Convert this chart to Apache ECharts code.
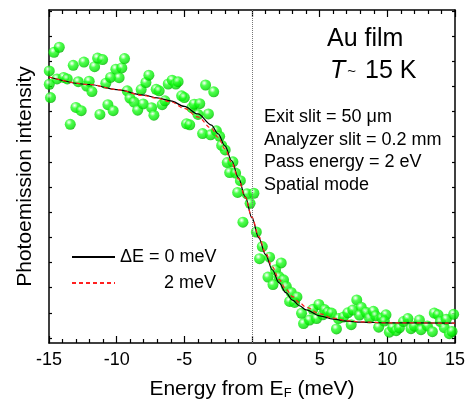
<!DOCTYPE html>
<html>
<head>
<meta charset="utf-8">
<script src="https://cdn.jsdelivr.net/npm/echarts@6/dist/echarts.min.js"></script>
<style>
  html, body { margin: 0; padding: 0; background: #fff; }
  #chart { width: 468px; height: 407px; }
</style>
</head>
<body>
<div id="chart"></div>
<script>
// measured points (energy in meV, intensity in arb. units)
const pointE = [-14.98,-14.98,-14.89,-14.63,-14.41,-14.24,-13.92,-13.65,-13.43,-13.21,
  -13.01,-12.84,-12.62,-12.42,-12.22,-12.03,-11.83,-11.63,-11.41,-11.24,
  -11.04,-10.80,-10.65,-10.45,-10.26,-10.06,-9.82,-9.62,-9.42,-9.22,
  -9.02,-8.72,-8.45,-8.19,-8.04,-7.84,-7.62,-7.42,-7.25,-7.08,
  -6.86,-6.64,-6.43,-6.19,-5.90,-5.63,-5.46,-5.20,-5.00,-4.84,
  -4.60,-4.44,-4.27,-3.99,-3.86,-3.65,-3.43,-3.22,-3.06,-2.83,
  -2.63,-2.39,-2.24,-1.98,-1.83,-1.65,-1.41,-1.21,-1.06,-0.86,
  -0.67,-0.37,-0.14,0.14,0.32,0.56,0.76,1.18,1.30,1.55,
  1.74,1.99,2.16,2.33,2.53,2.78,2.90,3.15,3.32,3.66,
  3.81,4.25,4.50,4.77,4.94,5.23,5.36,5.60,5.88,6.24,
  6.39,6.76,7.08,7.33,7.45,7.74,8.07,7.94,8.43,8.68,
  8.97,9.14,9.36,9.60,9.90,9.78,10.15,10.40,10.65,10.89,
  11.19,11.52,11.75,12.00,12.37,12.49,12.96,13.33,13.47,13.75,
  13.92,14.21,14.36,14.58,14.78,14.90];
const pointI = [10.61,10.08,9.55,11.35,10.29,11.55,10.35,10.29,8.49,10.83,
  9.16,10.18,9.03,10.96,10.01,10.20,9.79,10.78,11.12,8.88,
  11.06,10.12,9.27,10.35,9.03,10.68,10.34,10.73,11.10,9.82,
  9.53,9.37,9.05,9.87,9.30,10.15,10.44,9.15,8.85,9.88,
  9.82,9.27,9.42,10.09,10.24,10.09,10.18,9.62,9.55,8.51,
  8.47,9.15,9.29,8.88,9.31,8.12,10.05,8.90,8.07,9.78,
  8.23,8.01,7.65,7.47,6.97,6.57,7.00,6.55,5.78,6.25,
  4.60,5.73,5.35,5.75,4.21,3.15,3.63,2.42,3.21,2.12,
  2.71,2.44,2.98,2.31,2.05,1.45,1.81,1.41,1.63,0.98,
  0.57,0.71,1.14,0.77,1.33,0.92,1.13,1.02,0.99,0.36,
  0.77,0.83,1.00,0.53,1.11,1.51,1.22,0.91,1.02,0.79,
  1.06,0.88,0.43,0.79,0.92,0.67,0.23,0.41,0.29,0.40,
  0.65,0.77,0.37,0.47,0.71,0.33,0.48,0.25,0.99,0.92,
  0.65,0.41,0.74,0.17,0.26,0.94];

// fitted curves
const fitE = [-15,-12,-10,-8,-7,-6,-5,-4,-3,-2.5,-2,-1.5,-1,-0.5,0,0.5,1,1.5,2,2.5,3,3.5,4,5,6,7,8,10,15];
const fit0 = [10.37,10.07,9.87,9.65,9.54,9.42,9.20,8.90,8.46,8.11,7.63,7.04,6.36,5.61,4.77,3.98,3.31,2.71,2.19,1.80,1.50,1.28,1.12,0.88,0.75,0.67,0.63,0.60,0.59];
const fit2 = [10.37,10.07,9.87,9.63,9.52,9.38,9.12,8.78,8.33,7.97,7.51,6.96,6.32,5.59,4.79,4.04,3.38,2.83,2.33,1.94,1.64,1.40,1.22,0.96,0.79,0.69,0.64,0.60,0.59];
const fitNames = ['ΔE = 0 meV', '2 meV'];

const yTicks = [0,1,2,3,4,5,6,7,8,9,10,11,12,13];
const infoLines = ['Exit slit = 50 μm', 'Analyzer slit = 0.2 mm', 'Pass energy = 2 eV', 'Spatial mode'];

const FONT = '"Liberation Sans", Arial, sans-serif';
const chart = echarts.init(document.getElementById('chart'));

const zip = (xs, ys) => xs.map((x, i) => [x, ys[i]]);

const ballColor = {
  type: 'radial', x: 0.38, y: 0.32, r: 0.7,
  colorStops: [
    { offset: 0, color: '#ffffff' },
    { offset: 0.16, color: '#a8ffa8' },
    { offset: 0.38, color: '#22ff22' },
    { offset: 0.8, color: '#00e600' },
    { offset: 1, color: '#00a800' }
  ]
};

const xBase = {
  type: 'value', min: -15, max: 15, interval: 5,
  axisLine: { onZero: false, lineStyle: { color: '#000', width: 1.5 } },
  axisTick: { inside: true, length: 7, lineStyle: { color: '#000', width: 1.2 } },
  minorTick: { show: true, splitNumber: 5, length: 4, lineStyle: { color: '#000', width: 1.2 } },
  splitLine: { show: false }
};
const yBase = {
  type: 'value', min: -0.2, max: 13.03,
  axisLine: { show: true, onZero: false, lineStyle: { color: '#000', width: 1.5 } },
  axisTick: { show: true, inside: true, length: 3, customValues: yTicks, lineStyle: { color: '#000', width: 1.2 } },
  axisLabel: { show: false },
  splitLine: { show: false }
};

const infoGraphics = infoLines.map((t, i) => ({
  type: 'text', left: 264, top: 108 + i * 22.7,
  style: { text: t, font: '18px ' + FONT, fill: '#000' }
}));

const option = {
  animation: false,
  grid: { left: 49, right: 12, top: 10, bottom: 64 },
  xAxis: [
    Object.assign({}, xBase, {
      position: 'bottom',
      axisLabel: { color: '#000', fontSize: 18, fontFamily: FONT, margin: 8 },
      name: 'Energy from E{sub|F} (meV)',
      nameLocation: 'middle', nameGap: 36,
      nameTextStyle: {
        color: '#000', fontSize: 21, fontFamily: FONT,
        rich: { sub: { fontSize: 13, fontFamily: FONT, color: '#000', verticalAlign: 'bottom', lineHeight: 6 } }
      }
    }),
    Object.assign({}, xBase, { position: 'top', axisLabel: { show: false } })
  ],
  yAxis: [
    Object.assign({}, yBase, {
      position: 'left',
      name: 'Photoemission intensity',
      nameLocation: 'middle', nameGap: 13,
      nameTextStyle: { color: '#000', fontSize: 21, fontFamily: FONT }
    }),
    Object.assign({}, yBase, { position: 'right' })
  ],
  legend: {
    data: fitNames,
    orient: 'vertical', left: 66, top: 243,
    itemWidth: 43, itemHeight: 14, itemGap: 8,
    itemStyle: { opacity: 0 },
    textStyle: {
      color: '#000', fontSize: 18, fontFamily: FONT,
      rich: { r: { width: 96, align: 'right', fontSize: 18, fontFamily: FONT, color: '#000' } }
    },
    formatter: name => name === fitNames[1] ? '{r|' + name + '}' : name
  },
  series: [
    {
      name: 'data',
      type: 'scatter',
      data: zip(pointE, pointI),
      symbolSize: 11,
      itemStyle: { color: ballColor },
      markLine: {
        silent: true, symbol: 'none', label: { show: false },
        lineStyle: { color: '#777', type: 'dotted', width: 1 },
        data: [{ xAxis: 0 }]
      }
    },
    {
      name: fitNames[0],
      type: 'line',
      data: zip(fitE, fit0),
      symbol: 'none', smooth: 0.35, smoothMonotone: 'x',
      lineStyle: { color: '#000', width: 1.2 },
      itemStyle: { color: '#000' }
    },
    {
      name: fitNames[1],
      type: 'line',
      data: zip(fitE, fit2),
      symbol: 'none', smooth: 0.35, smoothMonotone: 'x',
      lineStyle: { color: '#ff2020', width: 1.2, type: [4, 3] },
      itemStyle: { color: '#ff2020' }
    }
  ],
  graphic: [
    { type: 'text', left: 327, top: 27, style: { text: 'Au film', font: '25px ' + FONT, fill: '#000' } },
    {
      type: 'text', left: 330, top: 59,
      style: {
        text: '{i|T}{t|~} 15 K', font: '25px ' + FONT, fill: '#000',
        rich: {
          i: { fontStyle: 'italic', fontSize: 25, fontFamily: FONT, fill: '#000' },
          t: { fontSize: 15, fontFamily: FONT, fill: '#000', padding: [0, 2, 0, 2] }
        }
      }
    }
  ].concat(infoGraphics)
};

chart.setOption(option);
</script>
</body>
</html>
